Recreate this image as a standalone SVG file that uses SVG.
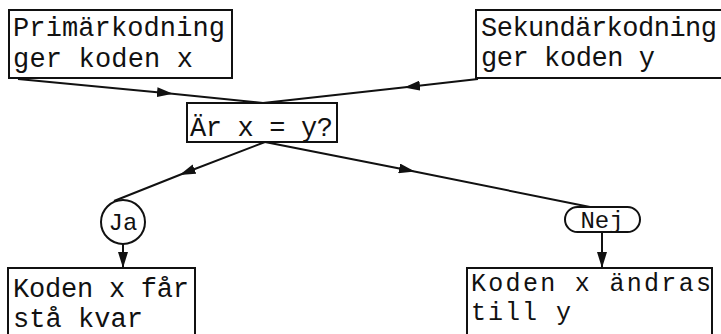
<svg xmlns="http://www.w3.org/2000/svg" width="721" height="334" viewBox="0 0 721 334">
<defs>
<style>
.box{fill:#fff;stroke:#111;stroke-width:2}
.t{font-family:"Liberation Mono","Courier New",monospace;font-size:27px;fill:#111}
.c{fill:none;stroke:#111;stroke-width:2}
</style>
<marker id="ah" viewBox="0 0 16 10" refX="8" refY="5" markerWidth="16" markerHeight="10" markerUnits="userSpaceOnUse" orient="auto">
<path d="M0,0 L16,5 L0,10 Z" fill="#111"/>
</marker>
<marker id="ae" viewBox="0 0 16 10" refX="16" refY="5" markerWidth="16" markerHeight="10" markerUnits="userSpaceOnUse" orient="auto">
<path d="M0,0 L16,5 L0,10 Z" fill="#111"/>
</marker>
</defs>
<rect width="721" height="334" fill="#fff"/>
<g id="connectors">
<path class="c" d="M18,79 L165,93 L263,103" marker-mid="url(#ah)"/>
<path class="c" d="M478,79 L412,86.5 L263,103" marker-mid="url(#ah)"/>
<path class="c" d="M265,142 L187,172 L114,201" marker-mid="url(#ah)"/>
<path class="c" d="M265,142 L407,170 L590,207" marker-mid="url(#ah)"/>
<path class="c" d="M123,244 L123,268" marker-end="url(#ae)"/>
<path class="c" d="M602,232 L602,268" marker-end="url(#ae)"/>
</g>
<g id="n1">
<rect class="box" x="9" y="10" width="223" height="68"/>
<text class="t" x="13" y="36" textLength="212">Primärkodning</text>
<text class="t" x="13" y="67" textLength="180">ger koden x</text>
</g>
<g id="n2">
<rect class="box" x="476" y="10" width="260" height="68"/>
<text class="t" x="481" y="36" textLength="236">Sekundärkodning</text>
<text class="t" x="481" y="66" textLength="174">ger koden y</text>
</g>
<g id="n3">
<rect class="box" x="187" y="103" width="150" height="39"/>
<text class="t" x="190" y="136" textLength="143">Är x = y?</text>
</g>
<g id="n4">
<circle class="box" cx="123" cy="222" r="22"/>
<text class="t" x="123" y="230" text-anchor="middle" style="font-size:24px">Ja</text>
</g>
<g id="n5">
<rect class="box" x="565" y="207" width="75" height="25" rx="12.5"/>
<text class="t" x="602" y="228" text-anchor="middle" style="font-size:24px">Nej</text>
</g>
<g id="n6">
<rect class="box" x="8" y="268" width="187" height="80"/>
<text class="t" x="13" y="297" textLength="176">Koden x får</text>
<text class="t" x="13" y="327" textLength="130">stå kvar</text>
</g>
<g id="n7">
<rect class="box" x="467" y="268" width="245" height="80"/>
<text class="t" x="471" y="291" textLength="240" style="font-size:25px">Koden x ändras</text>
<text class="t" x="471" y="320" textLength="100" style="font-size:25px">till y</text>
</g>
</svg>
